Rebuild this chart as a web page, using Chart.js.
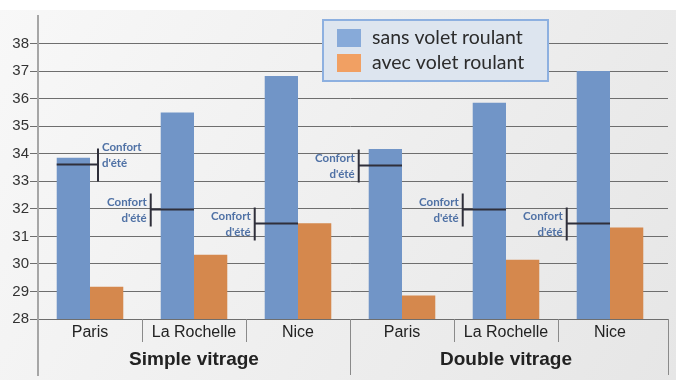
<!DOCTYPE html>
<html>
<head>
<meta charset="utf-8">
<script src="https://cdn.jsdelivr.net/npm/chart.js@4.4.0/dist/chart.umd.min.js"></script>
<style>
  html, body { margin: 0; padding: 0; background: #ffffff; }
  #wrap { width: 676px; height: 380px; position: relative; }
</style>
</head>
<body>
<div id="wrap"><canvas id="c" width="676" height="380"></canvas></div>
<script>
// ---- data ----
const categories = ['Paris', 'La Rochelle', 'Nice', 'Paris', 'La Rochelle', 'Nice'];
const groups = ['Simple vitrage', 'Double vitrage'];
const seriesNames = ['sans volet roulant', 'avec volet roulant'];
const sansVolet = [33.85, 35.5, 36.82, 34.17, 35.85, 37.0];
const avecVolet = [29.17, 30.33, 31.48, 28.85, 30.15, 31.32];
const confortEte = [33.63, 32.0, 31.5, 33.6, 32.0, 31.5];
const confortLabel = ['Confort', "d'été"];
const yTickValues = [28, 29, 30, 31, 32, 33, 34, 35, 36, 37, 38];

const BLUE = '#7195c7';
const ORANGE = '#d5884d';
const LEG_BLUE = '#87aad9';
const LEG_ORANGE = '#f1a063';
const GRID = '#6e6e6e';

function align(p) { return Math.round(p - 0.5) + 0.5; }

const bgPlugin = {
  id: 'bg',
  beforeDraw(chart) {
    const ctx = chart.ctx;
    ctx.save();
    ctx.fillStyle = '#ffffff';
    ctx.fillRect(0, 0, chart.width, chart.height);
    const g = ctx.createLinearGradient(0, 0, chart.width, chart.height);
    g.addColorStop(0, '#f8f8f8');
    g.addColorStop(1, '#e6e6e6');
    ctx.fillStyle = g;
    ctx.fillRect(0, 10, chart.width, chart.height - 10);
    // gridline extension to the right of the bars
    const y = chart.scales.y;
    const area = chart.chartArea;
    ctx.strokeStyle = GRID;
    ctx.lineWidth = 1;
    yTickValues.forEach(v => {
      const py = align(y.getPixelForValue(v));
      ctx.beginPath(); ctx.moveTo(area.right - 2, py); ctx.lineTo(area.right + 6, py); ctx.stroke();
    });
    ctx.restore();
  }
};

const decoPlugin = {
  id: 'deco',
  afterDatasetsDraw(chart) {
    const ctx = chart.ctx;
    const y = chart.scales.y;
    const meta = chart.getDatasetMeta(0);
    ctx.save();
    confortEte.forEach((v, i) => {
      const bar = meta.data[i];
      const half = bar.width / 2;
      const left = bar.x - half, right = bar.x + half;
      const py = Math.round(y.getPixelForValue(v)) + 0.5;
      ctx.strokeStyle = '#2f2f3a';
      ctx.lineWidth = 2;
      let vx, textX, al;
      if (i === 0) {
        vx = right + 8;
        ctx.beginPath(); ctx.moveTo(left, py); ctx.lineTo(vx, py); ctx.stroke();
        textX = vx + 4; al = 'left';
      } else {
        vx = left - 10;
        ctx.beginPath(); ctx.moveTo(vx, py); ctx.lineTo(right, py); ctx.stroke();
        textX = vx - 4; al = 'right';
      }
      ctx.beginPath(); ctx.moveTo(vx, py - 16); ctx.lineTo(vx, py + 17); ctx.stroke();
      ctx.fillStyle = '#4f71a5';
      ctx.font = 'bold 11.5px Lato, "Open Sans", sans-serif';
      ctx.textAlign = al;
      ctx.textBaseline = 'middle';
      const t0 = i === 0 ? py - 17 : py - 7;
      ctx.fillText(confortLabel[0], textX, t0);
      ctx.fillText(confortLabel[1], textX, t0 + 16);
    });
    ctx.restore();
  },
  afterDraw(chart) {
    const ctx = chart.ctx;
    const x = chart.scales.x;
    const area = chart.chartArea;
    ctx.save();
    // y axis extension below chart
    ctx.strokeStyle = '#a6a6a6';
    ctx.lineWidth = 2;
    ctx.beginPath(); ctx.moveTo(area.left, area.top); ctx.lineTo(area.left, chart.height - 4); ctx.stroke();
    // separators
    ctx.strokeStyle = '#8a8a8a';
    ctx.lineWidth = 1;
    for (let i = 0; i < categories.length - 1; i++) {
      const sx = Math.round((x.getPixelForValue(i) + x.getPixelForValue(i + 1)) / 2) + 0.5;
      const long = (i + 1) % 3 === 0;
      ctx.beginPath(); ctx.moveTo(sx, area.bottom); ctx.lineTo(sx, long ? chart.height - 5 : area.bottom + 23); ctx.stroke();
    }
    const rx = Math.round(area.right) + 6.5;
    ctx.beginPath(); ctx.moveTo(rx, area.bottom); ctx.lineTo(rx, chart.height - 5); ctx.stroke();
    // group labels
    ctx.fillStyle = '#222222';
    ctx.font = 'bold 19px "Liberation Sans", Arial, sans-serif';
    ctx.textAlign = 'center';
    ctx.textBaseline = 'middle';
    groups.forEach((g, gi) => {
      const cx = (x.getPixelForValue(gi * 3) + x.getPixelForValue(gi * 3 + 2)) / 2;
      ctx.fillText(g, cx, area.bottom + 41);
    });
    // legend
    const lx = 323, ly = 20, lw = 225, lh = 61;
    ctx.fillStyle = '#dde5ef';
    ctx.fillRect(lx, ly, lw, lh);
    ctx.strokeStyle = '#8db0e0';
    ctx.lineWidth = 2;
    ctx.strokeRect(lx, ly, lw, lh);
    const sw = [LEG_BLUE, LEG_ORANGE];
    ctx.font = '19.5px Lato, "Open Sans", sans-serif';
    ctx.textAlign = 'left';
    seriesNames.forEach((n, k) => {
      const cy = ly + 18 + k * 25;
      ctx.fillStyle = sw[k];
      ctx.fillRect(lx + 14, cy - 9, 24, 18);
      ctx.fillStyle = '#2c2c2c';
      ctx.fillText(n, lx + 49, cy);
    });
    ctx.restore();
  }
};

new Chart(document.getElementById('c'), {
  type: 'bar',
  data: {
    labels: categories,
    datasets: [
      { label: seriesNames[0], data: sansVolet, backgroundColor: BLUE, barPercentage: 1.0, categoryPercentage: 0.64 },
      { label: seriesNames[1], data: avecVolet, backgroundColor: ORANGE, barPercentage: 1.0, categoryPercentage: 0.64 }
    ]
  },
  options: {
    responsive: false,
    animation: false,
    layout: { padding: { top: 16, right: 14, left: 0, bottom: 0 } },
    plugins: { legend: { display: false }, tooltip: { enabled: false }, title: { display: false } },
    scales: {
      x: {
        grid: { display: false, drawTicks: false },
        border: { display: false },
        ticks: { color: '#222222', font: { family: '"Liberation Sans", Arial, sans-serif', size: 16 }, padding: 4, maxRotation: 0, autoSkip: false },
        afterFit(s) { s.height = 61; }
      },
      y: {
        min: 28, max: 39,
        afterBuildTicks(s) { s.ticks = yTickValues.concat([39]).map(v => ({ value: v })); },
        ticks: {
          color: '#333333',
          font: { family: '"Liberation Sans", Arial, sans-serif', size: 15 },
          padding: 1,
          callback: v => (yTickValues.includes(v) ? String(v) : '')
        },
        grid: {
          color: c => (c.tick && yTickValues.includes(c.tick.value) ? GRID : 'rgba(0,0,0,0)'),
          tickLength: 8,
          lineWidth: 1
        },
        border: { color: '#a6a6a6', width: 2 },
        afterFit(s) { s.width = 38; }
      }
    }
  },
  plugins: [bgPlugin, decoPlugin]
});
</script>
</body>
</html>
